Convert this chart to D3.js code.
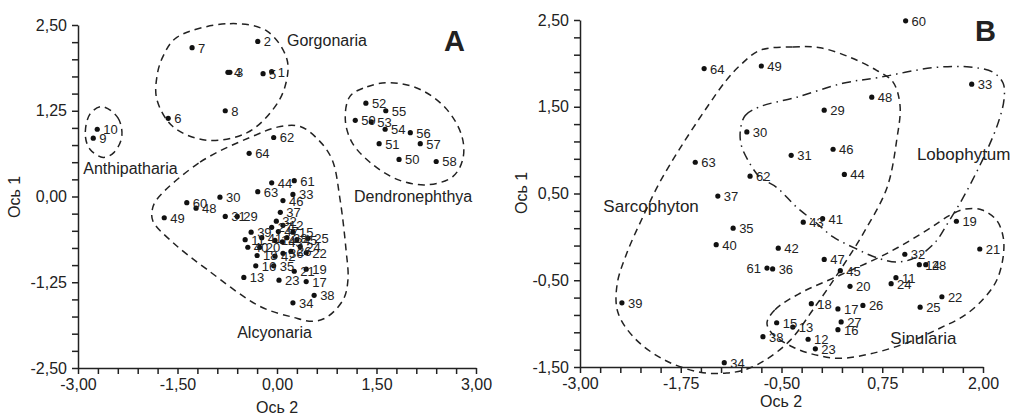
<!DOCTYPE html>
<head>
  <meta charset="utf-8">
  <script src="https://d3js.org/d3.v7.min.js"></script>
  <style>
    body { margin:0; background:#fff; }
    text { font-family: "Liberation Sans", Arial, sans-serif; fill:#222; }
  </style>
</head>
<body>
<svg width="1016" height="416"></svg>
<script>

// ---- panel A: all samples (Ось 2, Ось 1)
const idsA = d3.range(1, 65)
const xA = [-0.08,-0.29,-0.71,-0.74,-0.21,-1.64,-1.28,-0.78,-2.77,-2.71,
            -0.48, 0.09,-0.50,-0.03, 0.24,-0.32, 0.44,-0.30, 0.44,-0.26,
             0.26, 0.44, 0.03, 0.35, 0.47, 0.21,-0.08, 0.15,-0.60,-0.86,
            -0.78,-0.01, 0.24, 0.24,-0.05, 0.09, 0.05, 0.56,-0.39,-0.44,
            -0.23,-0.03, 0.08,-0.08, 0.30, 0.09, 0.02,-1.22,-1.70, 1.84,
             1.54, 1.34, 1.42, 1.63, 1.64, 2.01, 2.16, 2.40, 1.18,-1.36,
             0.26,-0.05,-0.29,-0.42]
const yA = [ 1.82, 2.26, 1.81, 1.81, 1.79, 1.14, 2.17, 1.25, 0.85, 0.98,
            -0.63,-0.42,-1.18,-0.64,-0.52,-1.01,-1.24,-0.86,-1.06,-0.74,
            -1.09,-0.82,-1.22,-0.73,-0.61,-0.80,-0.45,-0.60,-0.29,-0.01,
            -0.29,-0.36, 0.03,-1.55,-1.01,-0.83,-0.23,-1.44,-0.52,-0.74,
            -0.60,-0.87,-0.66, 0.20,-0.63,-0.06,-0.51,-0.17,-0.31, 0.54,
             0.77, 1.36, 1.09, 0.98, 1.25, 0.93, 0.77, 0.51, 1.11,-0.09,
             0.23, 0.86, 0.07, 0.63]

// ---- panel B: Alcyonaria only
const idsB = d3.range(11, 50).concat([60, 61, 62, 63, 64])
const xB = [ 0.92,-0.17,-0.36, 1.21,-0.56, 0.20, 0.20,-0.13, 1.67, 0.35,
             1.96, 1.49,-0.08, 0.86, 1.22, 0.51, 0.24, 1.29, 0.03,-0.93,
            -0.38, 1.03, 1.86,-1.21,-1.10,-0.61,-1.29,-0.73,-2.48,-1.31,
             0.01,-0.54,-0.23, 0.28, 0.23, 0.14, 0.03, 0.62,-0.75,
             1.04,-0.68,-0.89,-1.57,-1.46]
const yB = [-0.47,-1.18,-1.04,-0.32,-0.99,-1.07,-0.83,-0.77, 0.18,-0.57,
            -0.14,-0.69,-1.29,-0.54,-0.81,-0.79,-0.98,-0.32, 1.46, 1.21,
             0.94,-0.20, 1.76,-1.45, 0.10,-0.37, 0.47,-1.15,-0.76,-0.09,
             0.21,-0.13, 0.17, 0.72,-0.39, 1.01,-0.26, 1.61, 1.97,
             2.49,-0.36, 0.70, 0.86, 1.94]
const leftLabelsB = [61]

// ---- group outlines (data units)
const gorgonaria = [[-1.51,2.32],[-0.71,2.52],[-0.15,2.41],[0.15,2.00],[0.12,1.60],[-0.06,1.27],
                    [-0.45,0.93],[-1.06,0.82],[-1.57,1.02],[-1.81,1.41],[-1.81,1.75],[-1.72,2.04]]
const antipatharia = [[-2.64,1.31],[-2.40,1.15],[-2.34,0.87],[-2.46,0.64],[-2.62,0.57],[-2.82,0.69],[-2.89,0.90],[-2.82,1.20]]
const dendronephthya = [[1.10,1.46],[1.36,1.60],[1.70,1.66],[2.16,1.56],[2.56,1.27],[2.79,0.87],[2.80,0.54],
                        [2.65,0.29],[2.26,0.17],[1.81,0.25],[1.40,0.50],[1.13,0.79],[1.03,1.12]]
const alcyonaria = [[-1.81,-0.04],[-1.16,0.50],[-0.41,0.86],[0.05,1.02],[0.35,1.02],[0.62,0.83],[0.83,0.54],
                    [0.95,-0.04],[1.04,-0.77],[1.07,-1.21],[1.00,-1.50],[0.75,-1.76],[0.54,-1.82],[0.24,-1.76],
                    [-0.26,-1.60],[-1.06,-1.06],[-1.57,-0.67],[-1.87,-0.36],[-1.88,-0.19]]
const sarcophyton = [[-0.77,2.15],[-0.36,2.19],[-0.02,2.18],[0.35,2.07],[0.68,1.92],[0.88,1.79],[0.97,1.52],
                     [0.93,1.12],[0.81,0.57],[0.54,0.08],[0.23,-0.38],[-0.11,-0.84],[-0.39,-1.19],[-0.70,-1.42],
                     [-0.95,-1.53],[-1.18,-1.57],[-1.51,-1.56],[-1.95,-1.42],[-2.32,-1.17],[-2.53,-0.87],
                     [-2.54,-0.55],[-2.42,-0.19],[-2.22,0.23],[-2.01,0.63],[-1.76,1.02],[-1.42,1.50],[-1.18,1.81],[-1.01,1.98]]
const lobophytum = [[-1.01,1.23],[-0.95,1.40],[-0.77,1.50],[-0.31,1.61],[0.26,1.77],[0.72,1.84],[1.38,1.95],
                    [1.80,1.96],[2.12,1.90],[2.25,1.77],[2.26,1.58],[2.19,1.32],[2.06,1.02],[1.90,0.71],
                    [1.74,0.43],[1.57,0.17],[1.40,-0.07],[1.16,-0.24],[0.93,-0.29],[0.68,-0.24],[0.41,-0.13],
                    [0.14,0.00],[-0.08,0.17],[-0.31,0.34],[-0.56,0.57],[-0.77,0.69],[-0.92,0.89],[-1.00,1.06]]
const sinularia = [[-0.68,-0.99],[-0.58,-0.84],[-0.27,-0.65],[0.23,-0.44],[0.81,-0.19],[1.31,0.08],[1.59,0.25],
                   [1.78,0.32],[1.99,0.31],[2.17,0.19],[2.25,0.00],[2.25,-0.23],[2.17,-0.50],[2.02,-0.70],
                   [1.78,-0.90],[1.47,-1.05],[1.06,-1.22],[0.64,-1.34],[0.23,-1.40],[-0.08,-1.36],[-0.36,-1.27],[-0.62,-1.11]]

// ---- axis tick labels
const xLabelsA = [-3, -1.5, 0, 1.5, 3]
const yLabelsA = [-2.5, -1.25, 0, 1.25, 2.5]
const xLabelsB = [-3, -1.75, -0.5, 0.75, 2]
const yLabelsB = [-1.5, -0.5, 0.5, 1.5, 2.5]

const svg = d3.select("svg")
const fmt = v => d3.format(".2f")(v).replace(".", ",").replace("−", "-")
const dashed = "7,5", dashDot = "9,5,1.5,5"

function panel(o) {
  const g = svg.append("g")
  const x = d3.scaleLinear().domain(o.xDom).range(o.xRng)
  const y = d3.scaleLinear().domain(o.yDom).range(o.yRng)

  const outline = d3.line()
    .x(d => x(d[0])).y(d => y(d[1]))
    .curve(d3.curveCatmullRomClosed.alpha(0.5))
  o.outlines.forEach(ol => {
    g.append("path")
      .attr("d", outline(ol[0]))
      .attr("fill", "none")
      .attr("stroke", "#222")
      .attr("stroke-width", 1.5)
      .attr("stroke-dasharray", ol[1])
  })

  const isLabel = (list, v) => list.some(l => Math.abs(l - v) < 1e-6)
  const xAxis = d3.axisBottom(x).tickValues(o.xTicks).tickSize(6).tickSizeOuter(0).tickPadding(5)
    .tickFormat(v => isLabel(o.xLabels, v) ? fmt(v) : "")
  const yAxis = d3.axisLeft(y).tickValues(o.yTicks).tickSize(6).tickSizeOuter(0).tickPadding(5)
    .tickFormat(v => isLabel(o.yLabels, v) ? fmt(v) : "")

  const gx = g.append("g").attr("transform", `translate(0,${y(o.yDom[0])})`).call(xAxis)
  const gy = g.append("g").attr("transform", `translate(${x(o.xDom[0])},0)`).call(yAxis)
  ;[gx, gy].forEach(a => {
    a.attr("font-size", 16).attr("font-family", null)
    a.selectAll("path, line").attr("stroke", "#222").attr("stroke-width", 1.5)
    a.selectAll("text").attr("fill", "#222")
  })

  g.append("text").attr("x", o.xTitle[0]).attr("y", o.xTitle[1])
    .attr("text-anchor", "middle").attr("font-size", 16).text("Ось 2")
  g.append("text").attr("transform", `translate(${o.yTitle[0]},${o.yTitle[1]}) rotate(-90)`)
    .attr("text-anchor", "middle").attr("dy", "0.35em").attr("font-size", 16).text("Ось 1")

  const pts = o.ids.map((id, i) => ({id, x: o.xs[i], y: o.ys[i]}))
  g.selectAll("circle.pt").data(pts).join("circle")
    .attr("class", "pt")
    .attr("cx", d => x(d.x)).attr("cy", d => y(d.y))
    .attr("r", 2.6).attr("fill", "#111")
  g.selectAll("text.lbl").data(pts).join("text")
    .attr("class", "lbl")
    .attr("x", d => x(d.x) + (o.left.includes(d.id) ? -6 : 6))
    .attr("y", d => y(d.y))
    .attr("dy", "0.38em")
    .attr("text-anchor", d => o.left.includes(d.id) ? "end" : "start")
    .attr("font-size", 13)
    .text(d => d.id)

  o.groups.forEach(t => {
    g.append("text").attr("x", x(t[1])).attr("y", y(t[2])).attr("dy", "0.35em")
      .attr("font-size", o.groupFont).text(t[0])
  })

  g.append("text").attr("x", o.letter[1]).attr("y", o.letter[2])
    .attr("font-size", 29).attr("font-weight", "bold").attr("fill", "#000").text(o.letter[0])
}

panel({
  xDom: [-3, 3], xRng: [78, 476], yDom: [-2.5, 2.5], yRng: [368, 25],
  xTicks: d3.range(21).map(i => -3 + i * 0.3),
  yTicks: d3.range(21).map(i => -2.5 + i * 0.25),
  xLabels: xLabelsA, yLabels: yLabelsA,
  xTitle: [277, 413], yTitle: [14, 197],
  ids: idsA, xs: xA, ys: yA, left: [],
  outlines: [[gorgonaria, dashed], [antipatharia, dashed], [dendronephthya, dashed], [alcyonaria, dashed]],
  groups: [["Gorgonaria", 0.15, 2.27], ["Anthipatharia", -2.92, 0.41],
           ["Dendronephthya", 1.16, 0.0], ["Alcyonaria", -0.60, -1.98]],
  groupFont: 16,
  letter: ["A", 444, 51]
})

panel({
  xDom: [-3, 2], xRng: [580, 983], yDom: [-1.5, 2.5], yRng: [367, 20],
  xTicks: d3.range(21).map(i => -3 + i * 0.25),
  yTicks: d3.range(21).map(i => -1.5 + i * 0.2),
  xLabels: xLabelsB, yLabels: yLabelsB,
  xTitle: [781, 407], yTitle: [521, 193],
  ids: idsB, xs: xB, ys: yB, left: leftLabelsB,
  outlines: [[sarcophyton, dashed], [lobophytum, dashDot], [sinularia, dashed]],
  groups: [["Sarcophyton", -2.71, 0.36], ["Lobophytum", 1.18, 0.96], ["Sinularia", 0.85, -1.17]],
  groupFont: 17,
  letter: ["B", 975, 41]
})

</script>
</body>
